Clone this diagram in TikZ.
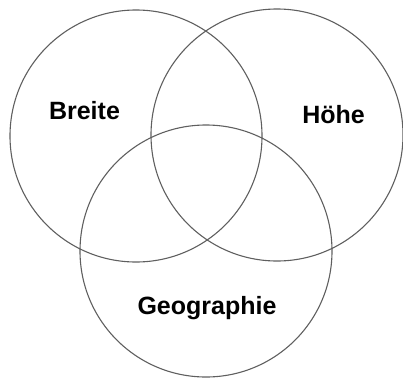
\documentclass[tikz,border=0pt]{standalone}
\usepackage{fontspec}
\setmainfont{Liberation Sans}
\usepackage{tikz}
\definecolor{mygray}{RGB}{95,95,95}

\begin{document}
\begin{tikzpicture}[x=1pt,y=-1pt,
    set/.style={circle,draw=mygray,line width=1.1pt,minimum size=252pt,inner sep=0pt},
    lbl/.style={anchor=base,font=\fontsize{25}{30}\selectfont\bfseries}]
    \useasboundingbox (0,0) rectangle (403,378);
    \node[set](breite) at (136,136){};
    \node[set](hoehe) at (277,135){};
    \node[set](geo) at (206,251){};
    \node[lbl] (tb) at (84.5,119.3){Breite};
    \node[lbl] (th) at (333.5,123.3){Höhe};
    \node[lbl] (tg) at (207,314){Geographie};
  \end{tikzpicture}
\end{document}
